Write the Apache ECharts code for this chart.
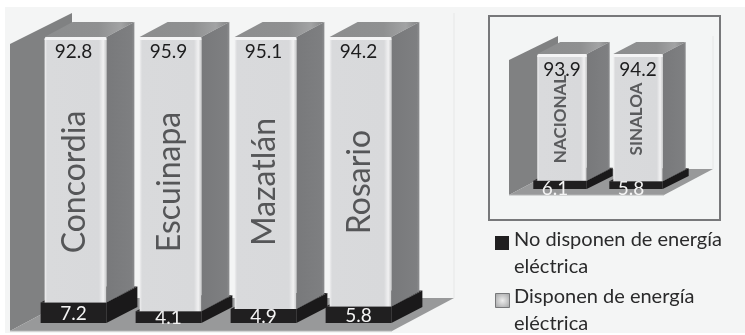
<!DOCTYPE html>
<html>
<head>
<meta charset="utf-8">
<style>html,body{margin:0;padding:0;background:#fff}#chart{width:745px;height:335px}</style>
<script src="https://cdn.jsdelivr.net/npm/echarts@6/dist/echarts.min.js"></script>
</head>
<body>
<div id="chart"></div>
<script>
// Viviendas con y sin energía eléctrica (porcentajes)
const municipios = ['Concordia', 'Escuinapa', 'Mazatlán', 'Rosario'];
const municipiosDisponen = [92.8, 95.9, 95.1, 94.2];
const municipiosNoDisponen = [7.2, 4.1, 4.9, 5.8];

const ambitos = ['NACIONAL', 'SINALOA'];
const ambitosDisponen = [93.9, 94.2];
const ambitosNoDisponen = [6.1, 5.8];

const nombreNo = 'No disponen de energía eléctrica';
const nombreSi = 'Disponen de energía eléctrica';

const FONT = 'Lato, "Open Sans", sans-serif';

// Perspective and typography of each of the two 3D panels
const mainPanel = {
  barRatio: 0.65, dx: 28, dy: 15, baseDx: 31, baseDy: 16, baseLeft: 4,
  wallLeft: 18, wallTop: 7, wallRise: 31, floorRight: 16, floorDx: 62, floorDy: 33, floorDrop: 8,
  valueFont: '19px ' + FONT, valueDy: 15, valueDx: -2, lowDy: 1, lowDx: -2,
  nameFont: '32px ' + FONT, nameDy: 145, nameFill: '#555658'
};
const insetPanel = {
  barRatio: 0.65, dx: 23, dy: 12, baseDx: 26, baseDy: 13, baseLeft: 4,
  wallLeft: 15, wallTop: 6, wallRise: 24, floorRight: 12, floorDx: 49, floorDy: 26, floorDrop: 6,
  valueFont: '19px ' + FONT, valueDy: 16, valueDx: 0, lowDy: 4, lowDx: -7,
  nameFont: 'bold 17px ' + FONT, nameDy: 65, nameFill: '#5a5b5d'
};

function poly(points, fill, extra) {
  return Object.assign({ type: 'polygon', shape: { points }, style: { fill } }, extra || {});
}
function hGrad(stops) {
  return new echarts.graphic.LinearGradient(0, 0, 1, 0, stops.map(s => ({ offset: s[0], color: s[1] })));
}

// Side wall, back line and floor of the 3D box, placed from the grid rectangle
function renderBackdrop(panel) {
  return function (params) {
    const c = params.coordSys;
    const bottom = c.y + c.height, right = c.x + c.width;
    const wx = c.x - panel.wallLeft, fy = bottom + panel.floorDrop;
    const wy = c.y + panel.wallTop;
    const bx = wx + panel.floorDx, by = fy - panel.floorDy;
    const fr = right - panel.floorRight;
    return {
      type: 'group',
      children: [
        poly([[wx, wy], [bx, wy - panel.wallRise], [bx, by], [wx, fy]], '#808182'),
        { type: 'line', shape: { x1: fr + panel.floorDx, y1: wy - panel.wallRise, x2: fr + panel.floorDx, y2: by }, style: { stroke: '#e6e7e7', lineWidth: 1 } },
        poly([[wx, fy], [fr, fy], [fr + panel.floorDx, by], [bx, by]], '#98999a'),
        { type: 'line', shape: { x1: wx, y1: fy, x2: fr, y2: fy }, style: { stroke: '#b4b5b6', lineWidth: 1 } }
      ]
    };
  };
}

// Dark base segment of a stacked column with its value
function renderBase(panel, values) {
  return function (params, api) {
    const i = api.value(0);
    const center = api.coord([i, 0])[0];
    const w = api.size([1, 0])[0] * panel.barRatio;
    const y0 = api.coord([i, api.value(1)])[1];
    const y1 = api.coord([i, api.value(2)])[1];
    const l = center - w / 2 - panel.baseLeft, r = center + w / 2;
    const dx = panel.baseDx, dy = panel.baseDy;
    return {
      type: 'group',
      children: [
        poly([[l, y1], [r, y1], [r + dx, y1 - dy], [l + dx, y1 - dy]], '#262526'),
        poly([[r, y1], [r + dx, y1 - dy], [r + dx, y0 - dy], [r, y0]], '#1a191a'),
        { type: 'rect', shape: { x: l, y: y1, width: r - l, height: y0 - y1 }, style: { fill: '#201f20' } },
        { type: 'text', x: center + panel.lowDx, y: (y0 + y1) / 2 + panel.lowDy,
          style: { text: values[i].toFixed(1), fill: '#f4f4f4', font: panel.valueFont, textAlign: 'center', textVerticalAlign: 'middle' } }
      ]
    };
  };
}

// Light upper segment of a stacked column with its value and rotated name
function renderColumn(panel, values, names) {
  return function (params, api) {
    const i = api.value(0);
    const center = api.coord([i, 0])[0];
    const w = api.size([1, 0])[0] * panel.barRatio;
    const y0 = api.coord([i, api.value(1)])[1];
    const y1 = api.coord([i, api.value(2)])[1];
    const l = center - w / 2, r = center + w / 2;
    const dx = panel.dx, dy = panel.dy;
    return {
      type: 'group',
      children: [
        poly([[l, y1], [r, y1], [r + dx, y1 - dy], [l + dx, y1 - dy]],
          hGrad([[0, '#8c8d8e'], [0.6, '#8f9091'], [0.85, '#a2a3a4'], [1, '#848586']])),
        poly([[r, y1], [r + dx, y1 - dy], [r + dx, y0 - dy], [r, y0]],
          hGrad([[0, '#78797b'], [0.9, '#7e7f81'], [1, '#8c8d8f']])),
        { type: 'rect', shape: { x: l, y: y1, width: r - l, height: y0 - y1, r: [2, 2, 0, 0] },
          style: { fill: hGrad([[0, '#f0f0f1'], [0.04, '#d9dadc'], [0.88, '#d8d9db'], [0.95, '#f1f1f2'], [1, '#c9cacb']]) } },
        { type: 'rect', shape: { x: l, y: y1, width: r - l, height: 3, r: [2, 2, 0, 0] }, style: { fill: '#f4f4f5' } },
        { type: 'text', x: center + panel.valueDx, y: y1 + panel.valueDy,
          style: { text: values[i].toFixed(1), fill: '#1d1d1e', font: panel.valueFont, textAlign: 'center', textVerticalAlign: 'middle' } },
        { type: 'text', x: center - 1, y: y1 + panel.nameDy, rotation: Math.PI / 2,
          style: { text: names[i], fill: panel.nameFill, font: panel.nameFont, textAlign: 'center', textVerticalAlign: 'middle' } }
      ]
    };
  };
}

function panelSeries(index, panel, names, yes, no) {
  const common = { type: 'custom', xAxisIndex: index, yAxisIndex: index, silent: true, clip: false };
  return [
    Object.assign({}, common, { name: 'fondo' + index, data: [[0, 0, 100]], renderItem: renderBackdrop(panel), encode: { x: 0, y: [1, 2] }, z: 1 }),
    Object.assign({}, common, { name: nombreNo, data: no.map((v, i) => [i, 0, v]), renderItem: renderBase(panel, no), encode: { x: 0, y: [1, 2] }, z: 2, itemStyle: { color: '#201f20' } }),
    Object.assign({}, common, { name: nombreSi, data: yes.map((v, i) => [i, no[i], no[i] + v]), renderItem: renderColumn(panel, yes, names), encode: { x: 0, y: [1, 2] }, z: 3, itemStyle: { color: '#d9dadc' } })
  ];
}

function hiddenX(names, gridIndex) {
  return { type: 'category', data: names, gridIndex, show: false };
}
function hiddenY(gridIndex) {
  return { type: 'value', min: 0, max: 100, gridIndex, show: false };
}

// Legend key and two-line caption
function legendEntry(top, lines, swatch) {
  return [
    Object.assign({ type: 'rect', left: 495, top, shape: { width: 14, height: 14 }, z: 20 }, swatch),
    { type: 'text', left: 514, top: top - 6, z: 20, style: { text: lines[0], font: '20px ' + FONT, fill: '#2a2a2b' } },
    { type: 'text', left: 514, top: top + 21, z: 20, style: { text: lines[1], font: '20px ' + FONT, fill: '#2a2a2b' } }
  ];
}

const chart = echarts.init(document.getElementById('chart'), null, { renderer: 'canvas' });
chart.setOption({
  animation: false,
  backgroundColor: '#ffffff',
  grid: [
    { left: 28, top: 37, width: 380, height: 286 },
    { left: 524, top: 54, width: 152, height: 135 }
  ],
  xAxis: [hiddenX(municipios, 0), hiddenX(ambitos, 1)],
  yAxis: [hiddenY(0), hiddenY(1)],
  graphic: [
    { type: 'rect', left: 5, top: 7, shape: { width: 740, height: 326 }, style: { fill: '#f4f5f5' }, z: -10 },
    { type: 'rect', left: 488, top: 15, shape: { width: 231, height: 204 }, style: { fill: '#f3f5f5', stroke: '#77787a', lineWidth: 2 }, z: -9 }
  ].concat(
    legendEntry(236, ['No disponen de energía', 'eléctrica'], { style: { fill: '#201f20' } }),
    legendEntry(293, ['Disponen de energía', 'eléctrica'], {
      style: {
        fill: new echarts.graphic.RadialGradient(0.5, 0.5, 0.6, [
          { offset: 0, color: '#ededed' }, { offset: 1, color: '#a8a9aa' }
        ]),
        stroke: '#77787a', lineWidth: 1
      }
    })
  ),
  series: panelSeries(0, mainPanel, municipios, municipiosDisponen, municipiosNoDisponen)
    .concat(panelSeries(1, insetPanel, ambitos, ambitosDisponen, ambitosNoDisponen))
});
</script>
</body>
</html>
